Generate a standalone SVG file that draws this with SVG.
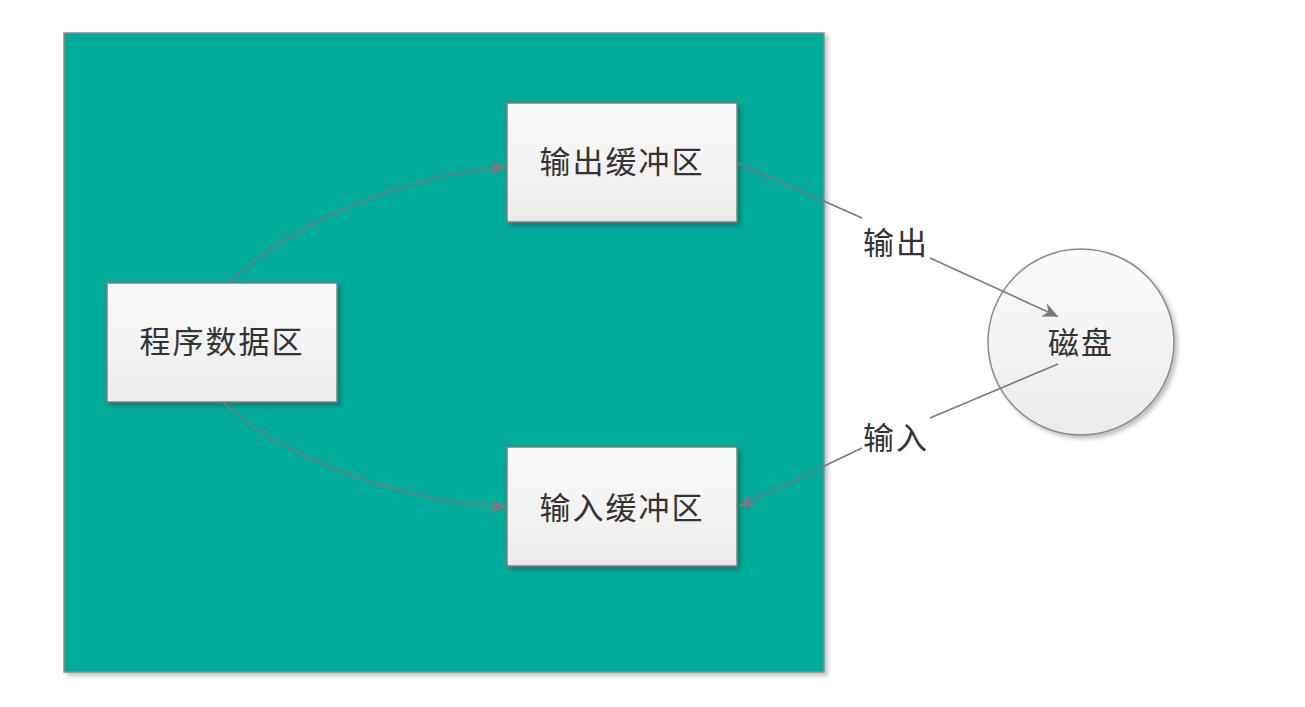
<svg xmlns="http://www.w3.org/2000/svg" width="1305" height="707" viewBox="0 0 1305 707">
<defs>
<linearGradient id="boxg" x1="0" y1="0" x2="0" y2="1">
<stop offset="0" stop-color="#fbfbfb"/>
<stop offset="1" stop-color="#ebebeb"/>
</linearGradient>
<filter id="sh" x="-10%" y="-10%" width="130%" height="130%">
<feDropShadow dx="3" dy="3" stdDeviation="2" flood-color="#000" flood-opacity="0.25"/>
</filter>
<marker id="arr" viewBox="0 0 10 10" refX="9" refY="5" markerWidth="16" markerHeight="16" markerUnits="userSpaceOnUse" orient="auto">
<path d="M0,0.5 L10,5 L0,9.5 L3,5 z" fill="#7a7a7a"/>
</marker>
</defs>
<style>
.box{fill:url(#boxg);stroke:#7f7f7f;stroke-width:1.5;filter:url(#sh)}
.t{font-family:"Noto Sans CJK SC","Noto Sans",sans-serif;font-size:31px;fill:#333;text-anchor:middle;dominant-baseline:central;letter-spacing:2px}
.c{fill:none;stroke:#7a7a7a;stroke-width:1.6}
</style>
<rect width="1305" height="707" fill="#ffffff"/>
<g id="memory">
<rect x="64" y="33" width="760" height="639" fill="#00ab9b" stroke="#8a8a8a" stroke-width="1.5" filter="url(#sh)"/>
</g>
<g id="program">
<rect class="box" x="107" y="283" width="230" height="119"/>
<text class="t" x="222" y="339">程序数据区</text>
</g>
<g id="outbuf">
<rect class="box" x="507" y="103" width="230" height="119"/>
<text class="t" x="622" y="159">输出缓冲区</text>
</g>
<g id="inbuf">
<rect class="box" x="507" y="447" width="230" height="119"/>
<text class="t" x="622" y="505">输入缓冲区</text>
</g>
<g id="disk">
<circle cx="1081" cy="342" r="93" fill="url(#boxg)" stroke="#8a8a8a" stroke-width="1.5" filter="url(#sh)"/>
<text class="t" x="1081" y="340">磁盘</text>
</g>
<g id="connectors">
<path class="c" d="M228,283 C290,225 400,175 505,167" marker-end="url(#arr)"/>
<path class="c" d="M223,402 C280,455 390,500 505,507" marker-end="url(#arr)"/>
<path class="c" d="M738,163 L862,218"/>
<path class="c" d="M930,258 L1057,316" marker-end="url(#arr)"/>
<path class="c" d="M1058,364 L930,418"/>
<path class="c" d="M862,448 L740,506" marker-end="url(#arr)"/>
<text class="t" x="896" y="240">输出</text>
<text class="t" x="896" y="435">输入</text>
</g>
</svg>
